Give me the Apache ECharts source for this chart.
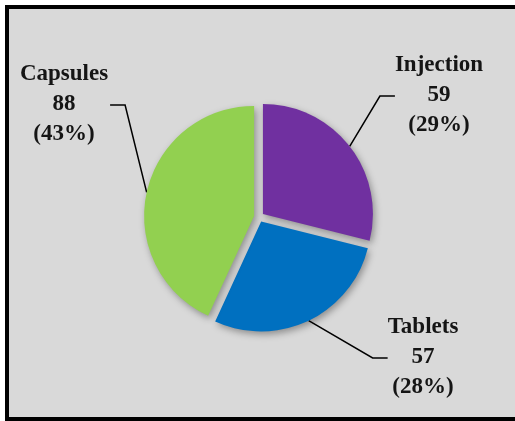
<!DOCTYPE html>
<html>
<head>
<meta charset="utf-8">
<script src="https://cdn.jsdelivr.net/npm/echarts@6/dist/echarts.min.js"></script>
<style>
  html, body { margin: 0; padding: 0; background: #ffffff; }
  #chart { width: 515px; height: 421px; }
</style>
</head>
<body>
<div id="chart"></div>
<script>
// Dosage forms and their counts
const categories = ['Injection', 'Tablets', 'Capsules'];
const counts = [59, 57, 88];
const sliceColors = ['#7030a0', '#0070c0', '#92d050'];

// Where each label block is centred, and which side its leader line meets
const labelSpots = {
  Injection: { x: 439, y: 95, side: 'left' },
  Tablets:   { x: 423, y: 357, side: 'left' },
  Capsules:  { x: 64,  y: 104, side: 'right' }
};

const labelFont = { family: 'Liberation Serif', weight: 'bold', size: 23 };
const blockWidth = 110;
const explode = 5;

// Width of a label's first line, for placing the leader line end
const measureCtx = document.createElement('canvas').getContext('2d');
measureCtx.font = labelFont.weight + ' ' + labelFont.size + 'px "' + labelFont.family + '"';
function textWidth(s) { return measureCtx.measureText(s).width; }

// Each label rides along with its exploded slice, so work out that shift
// (slices start at 12 o'clock and run clockwise)
const total = counts.reduce((a, b) => a + b, 0);
const sliceShift = [];
let run = 0;
counts.forEach(v => {
  const mid = (run + v / 2) / total * Math.PI * 2;
  sliceShift.push([Math.sin(mid) * explode, -Math.cos(mid) * explode]);
  run += v;
});

const chart = echarts.init(document.getElementById('chart'), null, { renderer: 'canvas' });

const data = categories.map((name, i) => ({
  name: name,
  value: counts[i],
  selected: true,
  itemStyle: { color: sliceColors[i] }
}));

const lineStyleRich = {
  width: blockWidth,
  align: 'center',
  fontFamily: labelFont.family,
  fontWeight: labelFont.weight,
  fontSize: labelFont.size,
  lineHeight: 30,
  color: '#151515'
};

chart.setOption({
  animation: false,
  backgroundColor: '#ffffff',
  graphic: [{
    type: 'rect',
    z: -10,
    silent: true,
    shape: { x: 7, y: 7, width: 530, height: 412 },
    style: { fill: '#d9d9d9', stroke: '#000000', lineWidth: 4 }
  }],
  series: [{
    type: 'pie',
    center: [259, 217],
    radius: 110,
    startAngle: 90,
    clockwise: true,
    selectedMode: 'multiple',
    selectedOffset: explode,
    percentPrecision: 0,
    emphasis: { disabled: true },
    itemStyle: {
      shadowBlur: 7,
      shadowOffsetX: 2,
      shadowOffsetY: 3,
      shadowColor: 'rgba(0,0,0,0.35)'
    },
    label: {
      show: true,
      position: 'outside',
      overflow: 'none',
      formatter: '{t|{b}}\n{t|{c}}\n{t|({d}%)}',
      fontFamily: labelFont.family,
      fontWeight: labelFont.weight,
      fontSize: labelFont.size,
      lineHeight: 30,
      color: '#151515',
      rich: { t: lineStyleRich }
    },
    labelLine: {
      show: true,
      lineStyle: { color: '#000000', width: 1.5 }
    },
    labelLayout: function (params) {
      const i = params.dataIndex;
      const name = categories[i];
      const spot = labelSpots[name];
      const shift = sliceShift[i];
      const rect = params.labelRect;
      const tx = spot.x - shift[0];
      const ty = spot.y - shift[1];
      const halfText = textWidth(name) / 2;
      const start = params.labelLinePoints ? params.labelLinePoints[0] : null;
      const endX = spot.side === 'right' ? tx + halfText + 2 : tx - halfText;
      const endY = ty + 1;
      const elbowX = spot.side === 'right' ? endX + 15 : endX - 15;
      const out = {
        dx: tx - (rect.x + rect.width / 2),
        dy: ty - (rect.y + rect.height / 2)
      };
      if (start) {
        out.labelLinePoints = [start, [elbowX, endY], [endX, endY]];
      }
      return out;
    },
    data: data
  }]
});
</script>
</body>
</html>
